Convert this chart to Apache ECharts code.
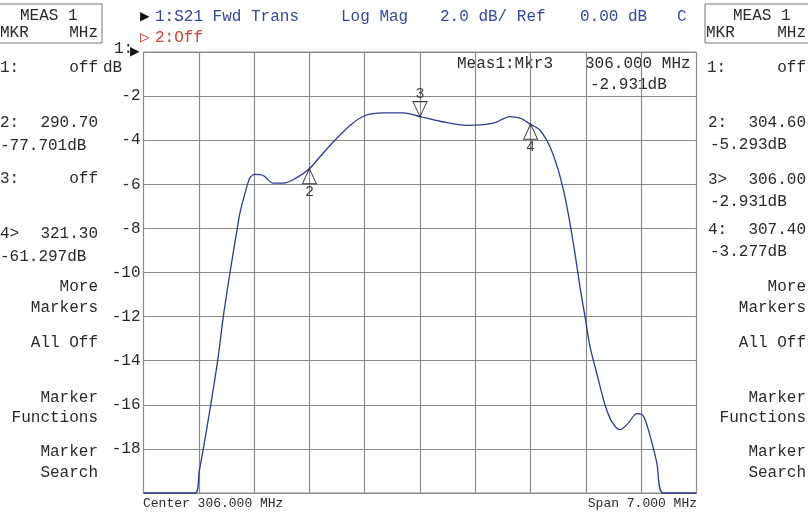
<!DOCTYPE html>
<html>
<head>
<meta charset="utf-8">
<script src="https://cdn.jsdelivr.net/npm/echarts@6/dist/echarts.min.js"></script>
<style>
  html, body { margin: 0; padding: 0; background: #fff; }
  #chart { width: 808px; height: 515px; }
</style>
</head>
<body>
<div id="chart"></div>
<script>
// trace: S21 Fwd Trans, Log Mag (MHz, dB), clipped at bottom of screen
const freqs = [302.5, 303.152, 303.206, 303.257, 303.351, 303.439, 303.51, 303.595, 303.687, 303.721,
  303.785, 303.848, 303.911, 304.016, 304.143, 304.27, 304.439, 304.6, 304.734, 304.902,
  305.114, 305.304, 305.535, 305.789, 306.0, 306.253, 306.591, 306.928, 307.139, 307.266,
  307.4, 307.519, 307.645, 307.751, 307.835, 307.899, 307.962, 308.025, 308.089, 308.152,
  308.237, 308.342, 308.426, 308.532, 308.637, 308.743, 308.827, 308.911, 308.996, 309.08, 309.5];
const s21 = [-20, -20, -19.0, -18, -16, -14, -12, -10, -8, -7.3,
  -6.4, -5.7, -5.55, -5.6, -5.95, -5.95, -5.7, -5.293, -4.75, -4.08,
  -3.33, -2.88, -2.76, -2.76, -2.931, -3.14, -3.33, -3.23, -2.93, -3.0,
  -3.277, -3.55, -4.3, -5.37, -6.57, -7.78, -9.14, -10.65, -12, -13.36,
  -14.57, -16, -16.75, -17.13, -16.83, -16.4, -16.5, -17.4, -18.6, -20, -20];

// markers on the trace
const mkrNames = ['2', '3', '4'];
const mkrFreqs = [304.6, 306.0, 307.4];
const mkrVals = [-5.293, -2.931, -3.277];

// left panel (other measurement) readouts
const leftMkr = ['1:', '2:', '3:', '4>'];
const leftFreq = ['off', '290.70', 'off', '321.30'];
const leftVal = ['', '-77.701dB', '', '-61.297dB'];

const yTicks = [-2, -4, -6, -8, -10, -12, -14, -16, -18];

const FONT = '16px "Liberation Mono", "DejaVu Sans Mono", monospace';
const SMALL = '13px "Liberation Mono", "DejaVu Sans Mono", monospace';
const BLUE = '#34499c';
const TXT = '#2a2a2a';

function txt(x, y, s, opt) {
  opt = opt || {};
  return {
    type: 'text', silent: true,
    style: {
      x: x, y: y, text: s,
      font: opt.font || FONT,
      fill: opt.fill || TXT,
      align: opt.align || 'left',
      verticalAlign: 'middle'
    }
  };
}

const myChart = echarts.init(document.getElementById('chart'));

const els = [];
// header
els.push(txt(140, 17, '\u25B6', { fill: '#111' }));
els.push(txt(155, 17, '1:S21 Fwd Trans', { fill: BLUE }));
els.push(txt(341, 17, 'Log Mag', { fill: BLUE }));
els.push(txt(440, 17, '2.0 dB/ Ref', { fill: BLUE }));
els.push(txt(580, 17, '0.00 dB', { fill: BLUE }));
els.push(txt(677, 17, 'C', { fill: BLUE }));
els.push(txt(140, 38, '\u25B7', { fill: '#c8413a' }));
els.push(txt(155, 38, '2:Off', { fill: '#c8413a' }));
// reference arrow on the axis
els.push(txt(114, 49, '1:'));
els.push(txt(130, 52, '\u25B6', { fill: '#111' }));

// left panel box
els.push({ type: 'rect', silent: true, shape: { x: -1, y: 4, width: 103, height: 39 },
  style: { fill: 'none', stroke: '#777', lineWidth: 1 } });
els.push(txt(20, 16, 'MEAS 1'));
els.push(txt(0, 33, 'MKR'));
els.push(txt(98, 33, 'MHz', { align: 'right' }));
const leftRows = [68, 123, 179, 234];
leftMkr.forEach(function (m, i) {
  els.push(txt(0, leftRows[i], m));
  els.push(txt(98, leftRows[i], leftFreq[i], { align: 'right' }));
  if (leftVal[i]) els.push(txt(0, leftRows[i] + 23, leftVal[i]));
});
els.push(txt(103, 68, 'dB'));

// right panel box
els.push({ type: 'rect', silent: true, shape: { x: 705, y: 4, width: 110, height: 39 },
  style: { fill: 'none', stroke: '#777', lineWidth: 1 } });
els.push(txt(733, 16, 'MEAS 1'));
els.push(txt(706, 33, 'MKR'));
els.push(txt(806, 33, 'MHz', { align: 'right' }));
els.push(txt(707, 68, '1:'));
els.push(txt(806, 68, 'off', { align: 'right' }));
const rightRows = [123, 180, 230];
mkrNames.forEach(function (n, i) {
  els.push(txt(708, rightRows[i], n + (n === '3' ? '>' : ':')));
  els.push(txt(806, rightRows[i], mkrFreqs[i].toFixed(2), { align: 'right' }));
  els.push(txt(710, rightRows[i] + 22, mkrVals[i].toFixed(3) + 'dB'));
});

// softkeys both sides
const keys = [['More', 287], ['Markers', 308], ['All Off', 343], ['Marker', 398],
  ['Functions', 418], ['Marker', 452], ['Search', 473]];
keys.forEach(function (k) {
  els.push(txt(98, k[1], k[0], { align: 'right' }));
  els.push(txt(806, k[1], k[0], { align: 'right' }));
});

// active marker readout
els.push(txt(457, 64, 'Meas1:Mkr3'));
els.push(txt(585, 64, mkrFreqs[1].toFixed(3) + ' MHz'));
els.push(txt(590, 85, mkrVals[1].toFixed(3) + 'dB'));

// bottom annotation
els.push(txt(143, 504, 'Center 306.000 MHz', { font: SMALL }));
els.push(txt(697, 504, 'Span 7.000 MHz', { font: SMALL, align: 'right' }));

const trace = freqs.map(function (f, i) { return [f, s21[i]]; });
const upMkrs = [];
const downMkrs = [];
mkrNames.forEach(function (n, i) {
  const p = { name: n, value: [mkrFreqs[i], mkrVals[i]] };
  if (n === '3') downMkrs.push(p); else upMkrs.push(p);
});

const option = {
  animation: false,
  backgroundColor: '#fff',
  grid: {
    left: 143.5, top: 52, width: 553, height: 441,
    show: true, borderColor: '#8a8a8a', borderWidth: 1
  },
  xAxis: [
    {
      type: 'value', min: 302.5, max: 309.5, show: false
    },
    {
      // divisions of the screen (10 x 0.7 MHz)
      type: 'value', min: 0, max: 10, interval: 1,
      axisLine: { show: false },
      axisTick: { show: false },
      axisLabel: { show: false },
      splitLine: { show: true, lineStyle: { color: '#8a8a8a', width: 1.2 } }
    }
  ],
  yAxis: {
    type: 'value', min: -20, max: 0, interval: 2,
    axisLine: { show: false },
    axisTick: { show: false },
    splitLine: { show: true, lineStyle: { color: '#8a8a8a', width: 1.2 } },
    axisLabel: {
      margin: 3,
      color: TXT,
      fontFamily: '"Liberation Mono", "DejaVu Sans Mono", monospace',
      fontSize: 16,
      formatter: function (v) { return yTicks.indexOf(v) >= 0 ? String(v) : ''; }
    }
  },
  series: [
    {
      type: 'line',
      xAxisIndex: 0,
      data: trace,
      smooth: 0.3,
      clip: false,
      showSymbol: false,
      lineStyle: { color: '#2b3b8f', width: 1.3 },
      z: 3
    },
    {
      type: 'scatter',
      xAxisIndex: 0,
      data: upMkrs,
      symbol: 'path://M5,0 L10,10 L0,10 Z',
      symbolSize: [14, 15],
      symbolOffset: [0, 7.5],
      itemStyle: { color: 'rgba(0,0,0,0)', borderColor: '#111', borderWidth: 1 },
      label: {
        show: true, position: 'bottom', distance: 0,
        formatter: '{b}', color: '#111',
        fontFamily: '"Liberation Mono", monospace', fontSize: 15
      },
      z: 4
    },
    {
      type: 'scatter',
      xAxisIndex: 0,
      data: downMkrs,
      symbol: 'path://M0,0 L10,0 L5,10 Z',
      symbolSize: [14, 15],
      symbolOffset: [0, -7.5],
      itemStyle: { color: 'rgba(0,0,0,0)', borderColor: '#111', borderWidth: 1 },
      label: {
        show: true, position: 'top', distance: 0,
        formatter: '{b}', color: '#111',
        fontFamily: '"Liberation Mono", monospace', fontSize: 15
      },
      z: 4
    }
  ],
  graphic: { elements: els }
};

myChart.setOption(option);
</script>
</body>
</html>
